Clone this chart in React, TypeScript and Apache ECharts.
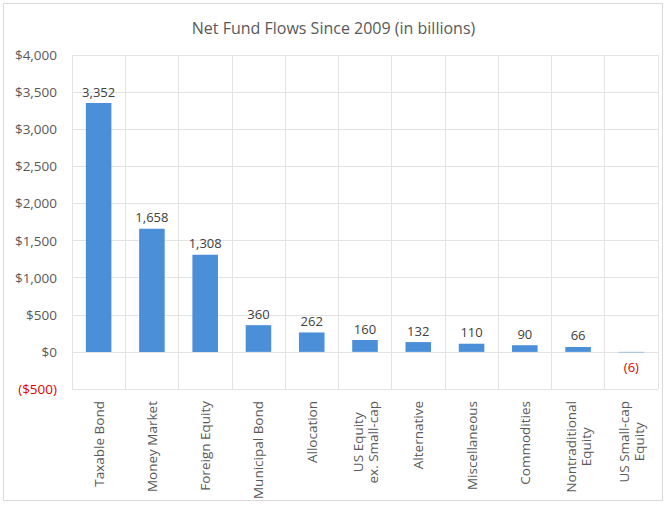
import React, { useEffect, useRef } from "react";
import * as echarts from "echarts";

const categories = [
  "Taxable Bond",
  "Money Market",
  "Foreign Equity",
  "Municipal Bond",
  "Allocation",
  "US Equity\nex. Small-cap",
  "Alternative",
  "Miscellaneous",
  "Commodities",
  "Nontraditional\nEquity",
  "US Small-cap\nEquity",
];
const flows = [3352, 1658, 1308, 360, 262, 160, 132, 110, 90, 66, -6];
const title = "Net Fund Flows Since 2009 (in billions)";

const fmtNum = (v: number) => {
  const s = Math.abs(v).toLocaleString("en-US");
  return v < 0 ? `(${s})` : s;
};

export default function App() {
  const ref = useRef<HTMLDivElement>(null);
  useEffect(() => {
    if (!ref.current) return;
    const chart = echarts.init(ref.current, null, { renderer: "svg" });
    const font = "'Open Sans', 'Liberation Sans', sans-serif";
    chart.setOption({
      animation: false,
      backgroundColor: "#ffffff",
      textStyle: { fontFamily: font },
      title: {
        text: title,
        left: "center",
        top: 15,
        textStyle: { fontSize: 16, fontWeight: "normal", color: "#595959", fontFamily: font },
      },
      graphic: [
        {
          type: "rect",
          shape: { x: 3.5, y: 3.5, width: 659, height: 497 },
          style: { fill: "none", stroke: "#d9d9d9", lineWidth: 1 },
          silent: true,
        },
      ],
      grid: { left: 72, right: 9, top: 55, bottom: 116 },
      xAxis: {
        type: "category",
        data: categories,
        axisLine: { show: false },
        axisTick: { show: false },
        splitLine: { show: true, lineStyle: { color: "#e3e3e3" } },
        axisLabel: {
          rotate: 90,
          interval: 0,
          color: "#595959",
          fontSize: 13.5,
          margin: 12,
          lineHeight: 15,
          align: "right",
          formatter: (v: string) =>
            v
              .split("\n")
              .map((l) => `{c|${l}}`)
              .join("\n"),
          rich: {
            c: {
              align: "center",
              fontSize: 13.5,
              lineHeight: 15,
              color: "#595959",
              fontFamily: font,
            },
          },
        },
      },
      yAxis: {
        type: "value",
        min: -500,
        max: 4000,
        interval: 500,
        axisLine: { show: false },
        axisTick: { show: false },
        splitLine: { show: true, lineStyle: { color: "#e3e3e3" } },
        axisLabel: {
          color: "#595959",
          fontSize: 13.5,
          margin: 15,
          formatter: (v: number) =>
            v < 0 ? `{neg|($${Math.abs(v).toLocaleString("en-US")})}` : `$${v.toLocaleString("en-US")}`,
          rich: { neg: { color: "#e00000", fontSize: 13.5 } },
        },
      },
      series: [
        {
          type: "bar",
          data: flows.map((v) => ({
            value: v,
            label:
              v < 0
                ? { position: "bottom", color: "#e00000", distance: 8 }
                : { position: "top" },
          })),
          barWidth: "48%",
          itemStyle: { color: "#4a8fd8" },
          label: {
            show: true,
            color: "#404040",
            fontSize: 13,
            distance: 5,
            formatter: (p: any) => fmtNum(p.value),
          },
        },
      ],
    });
    return () => chart.dispose();
  }, []);
  return (
    <div
      ref={ref}
      style={{ position: "fixed", left: 0, top: 0, width: 667, height: 505 }}
    />
  );
}
